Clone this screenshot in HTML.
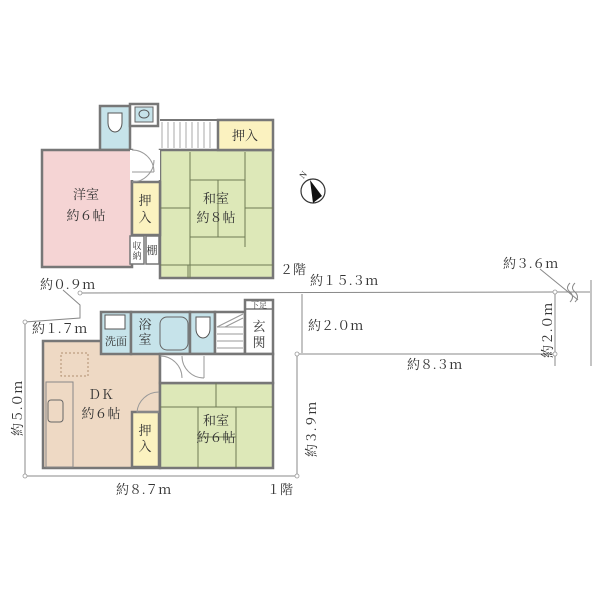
<!DOCTYPE html>
<html><head><meta charset="utf-8"><style>
html,body{margin:0;padding:0;background:#fff}
svg{display:block}
text{font-family:"Liberation Serif","Noto Serif CJK SC","Noto Sans CJK JP",serif;fill:#333}
</style></head><body>
<svg width="600" height="600" viewBox="0 0 600 600" xmlns="http://www.w3.org/2000/svg">
<!-- ===== 2F ===== -->
<g stroke="#777" stroke-width="2.5">
<rect x="100" y="106" width="30" height="44" fill="#c6e3ea"/>
<rect x="130" y="104" width="28" height="22" fill="#fff"/>
<rect x="42" y="150" width="90" height="117" fill="#f5d4d4"/>
<rect x="160" y="150" width="113" height="128" fill="#dde8b8"/>
<rect x="218" y="120" width="55" height="30" fill="#fbf2c0"/>
<rect x="132" y="182" width="28" height="53" fill="#fbf2c0"/>
</g>
<rect x="135" y="107" width="18" height="15" fill="#c6e3ea" stroke="#666" stroke-width="1"/>
<ellipse cx="144" cy="114" rx="5" ry="4" fill="none" stroke="#555"/>
<path d="M108 113 h14 v10 a7 9 0 0 1 -14 0z" fill="#fff" stroke="#555" stroke-width="1"/>
<rect x="130" y="150" width="30" height="30" fill="#fff" stroke="none"/>
<path d="M132 150 a22 22 0 0 1 22 22 M132 172 h22 M132 182 a22 22 0 0 0 22 -22" fill="none" stroke="#999" stroke-width="1"/>
<g stroke="#aaa" stroke-width="1"><line x1="162" y1="122" x2="162" y2="148"/>
<line x1="168" y1="122" x2="168" y2="148"/><line x1="174" y1="122" x2="174" y2="148"/><line x1="180" y1="122" x2="180" y2="148"/><line x1="186" y1="122" x2="186" y2="148"/><line x1="192" y1="122" x2="192" y2="148"/><line x1="198" y1="122" x2="198" y2="148"/><line x1="204" y1="122" x2="204" y2="148"/><line x1="210" y1="122" x2="210" y2="148"/></g>
<line x1="160" y1="120" x2="218" y2="120" stroke="#777" stroke-width="2"/>
<line x1="160" y1="150" x2="218" y2="150" stroke="#777" stroke-width="2"/>
<rect x="130" y="236" width="14" height="28" fill="#fff" stroke="#777" stroke-width="1.5"/>
<rect x="146" y="236" width="13" height="28" fill="#fff" stroke="#777" stroke-width="1.5"/>
<!-- tatami 8 -->
<g stroke="#6f7a55" stroke-width="1" fill="none">
<line x1="190" y1="152" x2="190" y2="218"/><line x1="160" y1="208" x2="190" y2="208"/>
<line x1="190" y1="180" x2="245" y2="180"/><line x1="245" y1="152" x2="245" y2="247"/>
<line x1="218" y1="180" x2="218" y2="237"/><line x1="245" y1="208" x2="273" y2="208"/>
<line x1="190" y1="237" x2="245" y2="237"/><line x1="190" y1="218" x2="190" y2="278"/>
<line x1="160" y1="265" x2="273" y2="265"/><line x1="188" y1="265" x2="188" y2="278"/>
</g>
<!-- ===== 1F ===== -->
<g stroke="#777" stroke-width="2.5">
<rect x="43" y="341" width="117" height="127" fill="#eed9c4"/>
<rect x="160" y="383" width="113" height="85" fill="#dde8b8"/>
<rect x="132" y="412" width="27" height="55" fill="#fbf2c0"/>
<rect x="101" y="312" width="30" height="42" fill="#c6e3ea"/>
<rect x="131" y="312" width="59" height="42" fill="#c6e3ea"/>
<rect x="190" y="312" width="25" height="42" fill="#c6e3ea"/>
<rect x="215" y="312" width="30" height="42" fill="#fff"/>
<rect x="245" y="300" width="28" height="54" fill="#fff"/>
<rect x="160" y="354" width="113" height="29" fill="#fff"/>
</g>
<line x1="245" y1="309" x2="273" y2="309" stroke="#777" stroke-width="1.5"/>
<rect x="160" y="317" width="28" height="33" rx="7" fill="#c6e3ea" stroke="#666"/>
<path d="M196 317 h14 v12 a7 9 0 0 1 -14 0z" fill="#fff" stroke="#555" stroke-width="1"/>
<rect x="105" y="315" width="20" height="14" fill="#fff" stroke="#555" stroke-width="1"/>
<g stroke="#999" stroke-width="1" fill="none">
<line x1="217" y1="327" x2="243" y2="327"/><line x1="217" y1="334" x2="243" y2="334"/><line x1="217" y1="341" x2="243" y2="341"/><line x1="217" y1="348" x2="243" y2="348"/>
<line x1="217" y1="327" x2="243" y2="314"/><line x1="225" y1="327" x2="243" y2="318"/>
<path d="M160 356 a22 22 0 0 1 22 22 M182 356 a22 22 0 0 0 22 22 M204 356 v22"/>
<path d="M159 392 a22 22 0 0 0 -22 20 h22"/>
<rect x="61" y="353" width="27" height="23" stroke-dasharray="2,2" stroke="#b09070"/>
<rect x="46" y="382" width="27" height="85" stroke="#888"/>
<rect x="48" y="400" width="15" height="22" rx="3" stroke="#666"/>
</g>
<g stroke="#6f7a55" stroke-width="1">
<line x1="216" y1="383" x2="216" y2="407"/><line x1="160" y1="407" x2="273" y2="407"/>
<line x1="198" y1="407" x2="198" y2="468"/><line x1="236" y1="407" x2="236" y2="468"/>
<line x1="198" y1="437" x2="236" y2="437"/>
</g>
<!-- dimension / boundary lines -->
<g stroke="#888" stroke-width="1" fill="none">
<path d="M63 290 L80 305 V318 L25 322 V476 H297 V354"/>
<line x1="80" y1="293" x2="555" y2="292"/>
<line x1="297" y1="354" x2="555" y2="354"/>
<line x1="555" y1="292" x2="555" y2="366"/>
<line x1="302" y1="294" x2="302" y2="353"/>
<line x1="555" y1="292" x2="590" y2="292"/>
<line x1="591" y1="280" x2="591" y2="366"/>
<line x1="540" y1="269" x2="578" y2="300"/>
<path d="M570 283 q-5 5 0 9 q5 5 0 10 M575 283 q-5 5 0 9 q5 5 0 10"/>
</g>
<g fill="#fff" stroke="#999" stroke-width="0.8">
<circle cx="80" cy="293" r="2"/><circle cx="25" cy="322" r="2"/><circle cx="25" cy="476" r="2"/><circle cx="297" cy="476" r="2"/><circle cx="297" cy="354" r="2"/><circle cx="555" cy="354" r="2"/><circle cx="555" cy="292" r="2"/>
</g>
<!-- compass -->
<circle cx="313" cy="191" r="12" fill="#fff" stroke="#333" stroke-width="1.2"/>
<path d="M310 180 L322 196 L313 203 Z" fill="#111"/>
<text x="300" y="178" font-size="9" transform="rotate(-50 303 175)">N</text>
<!-- labels -->
<g font-size="13">
<text x="86" y="199" text-anchor="middle">洋室</text><text x="86" y="220" text-anchor="middle">約６帖</text>
<text x="216" y="203" text-anchor="middle">和室</text><text x="216" y="222" text-anchor="middle">約８帖</text>
<text x="245" y="140" text-anchor="middle">押入</text>
<text x="145" y="205" text-anchor="middle">押</text><text x="145" y="222" text-anchor="middle">入</text>
<text x="101" y="399" text-anchor="middle">ＤＫ</text><text x="101" y="418" text-anchor="middle">約６帖</text>
<text x="216" y="425" text-anchor="middle">和室</text><text x="216" y="442" text-anchor="middle">約６帖</text>
<text x="145" y="435" text-anchor="middle">押</text><text x="145" y="451" text-anchor="middle">入</text>
<text x="145" y="329" text-anchor="middle">浴</text><text x="145" y="344" text-anchor="middle">室</text>
<text x="259" y="331" text-anchor="middle">玄</text><text x="259" y="347" text-anchor="middle">関</text>
<text x="280" y="274">２階</text>
<text x="267" y="494">１階</text>
<text x="40" y="289">約０.９ｍ</text>
<text x="32" y="333">約１.７ｍ</text>
<text x="310" y="285">約１５.３ｍ</text>
<text x="308" y="330">約２.０ｍ</text>
<text x="407" y="369">約８.３ｍ</text>
<text x="503" y="268">約３.６ｍ</text>
<text x="116" y="494">約８.７ｍ</text>
</g>
<g font-size="11">
<text x="116" y="345" text-anchor="middle">洗面</text>
<text x="137" y="249" text-anchor="middle" font-size="9">収</text><text x="137" y="259" text-anchor="middle" font-size="9">納</text>
<text x="152" y="254" text-anchor="middle">棚</text>
<text x="259" y="308" text-anchor="middle" font-size="8">下足</text>
</g>
<g font-size="13">
<text transform="translate(22 436) rotate(-90)">約５.０ｍ</text>
<text transform="translate(316 457) rotate(-90)">約３.９ｍ</text>
<text transform="translate(552 358) rotate(-90)">約２.０ｍ</text>
</g>
</svg>
</body></html>
